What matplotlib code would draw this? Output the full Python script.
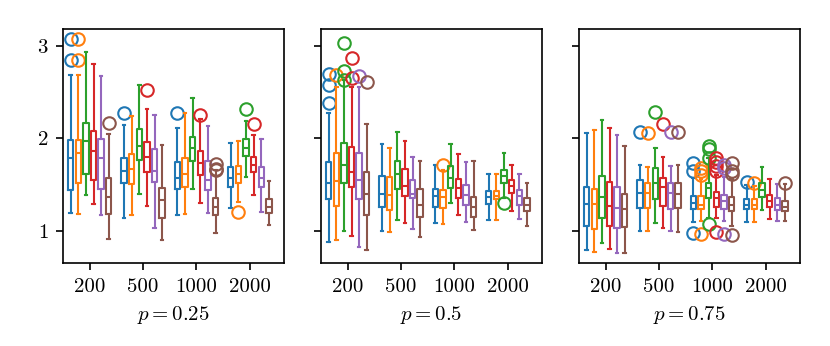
import numpy as np
import matplotlib
matplotlib.use("Agg")
import matplotlib.pyplot as plt

plt.rcParams["font.family"] = "serif"
plt.rcParams["font.serif"] = ["cmr10", "DejaVu Serif"]
plt.rcParams["mathtext.fontset"] = "cm"
plt.rcParams["axes.formatter.use_mathtext"] = True
plt.rcParams["font.size"] = 10

sizes = ["200", "500", "1000", "2000"]
panel_titles = ["$p = 0.25$", "$p = 0.5$", "$p = 0.75$"]
colors = ["tab:blue", "tab:orange", "tab:green", "tab:red", "tab:purple", "tab:brown"]

# rows: sizes (200, 500, 1000, 2000); columns: the six methods
p25_hi = [[2.68, 2.68, 2.93, 2.80, 2.67, 2.05],
          [2.14, 2.24, 2.57, 2.32, 2.25, 1.93],
          [2.11, 2.27, 2.43, 2.21, 2.13, 1.66],
          [1.95, 1.97, 2.19, 2.03, 1.99, 1.54]]
p25_q3 = [[1.98, 1.98, 2.16, 2.08, 1.99, 1.57],
          [1.79, 1.83, 2.10, 1.96, 1.88, 1.46],
          [1.74, 1.79, 2.01, 1.86, 1.75, 1.35],
          [1.69, 1.70, 1.99, 1.80, 1.69, 1.34]]
p25_med = [[1.79, 1.84, 1.97, 1.86, 1.79, 1.36],
           [1.65, 1.67, 1.91, 1.80, 1.64, 1.33],
           [1.57, 1.61, 1.89, 1.73, 1.55, 1.26],
           [1.57, 1.61, 1.89, 1.71, 1.57, 1.26]]
p25_q1 = [[1.44, 1.52, 1.61, 1.55, 1.45, 1.18],
          [1.52, 1.50, 1.76, 1.63, 1.53, 1.14],
          [1.45, 1.47, 1.75, 1.60, 1.44, 1.17],
          [1.47, 1.51, 1.81, 1.63, 1.47, 1.19]]
p25_lo = [[1.19, 1.18, 1.39, 1.29, 1.17, 0.91],
          [1.14, 1.17, 1.40, 1.27, 1.03, 0.90],
          [1.17, 1.18, 1.45, 1.30, 1.19, 0.97],
          [1.25, 1.31, 1.58, 1.39, 1.20, 1.06]]
p25_out = [[[3.07, 2.84], [3.07, 2.84], [], [], [], [2.16]],
           [[2.27], [], [], [2.52], [], []],
           [[2.27], [], [], [2.25], [], [1.72, 1.67, 1.66]],
           [[], [1.20], [2.31], [2.15], [], []]]

p50_hi = [[2.27, 2.55, 2.63, 2.55, 2.55, 2.15],
          [1.94, 1.89, 2.07, 1.97, 1.80, 1.75],
          [1.71, 1.66, 1.94, 1.83, 1.74, 1.75],
          [1.61, 1.61, 1.84, 1.71, 1.61, 1.52]]
p50_q3 = [[1.74, 1.84, 1.95, 1.90, 1.84, 1.63],
          [1.59, 1.58, 1.75, 1.67, 1.55, 1.45],
          [1.45, 1.44, 1.70, 1.56, 1.49, 1.36],
          [1.43, 1.43, 1.66, 1.55, 1.44, 1.35]]
p50_med = [[1.52, 1.54, 1.71, 1.63, 1.55, 1.40],
           [1.40, 1.38, 1.61, 1.48, 1.40, 1.28],
           [1.37, 1.36, 1.57, 1.46, 1.38, 1.26],
           [1.36, 1.37, 1.59, 1.48, 1.37, 1.28]]
p50_q1 = [[1.34, 1.27, 1.52, 1.47, 1.34, 1.17],
          [1.26, 1.22, 1.45, 1.37, 1.35, 1.15],
          [1.26, 1.25, 1.46, 1.35, 1.28, 1.15],
          [1.29, 1.34, 1.52, 1.41, 1.28, 1.21]]
p50_lo = [[0.88, 0.90, 1.00, 0.94, 0.82, 0.79],
          [1.00, 0.98, 1.12, 1.08, 1.02, 0.93],
          [1.08, 1.07, 1.30, 1.17, 1.09, 1.01],
          [1.11, 1.11, 1.35, 1.21, 1.13, 1.05]]
p50_out = [[[2.69, 2.57, 2.38], [2.68], [3.03, 2.73, 2.63], [2.87, 2.65], [2.67], [2.61]],
           [[], [], [], [], [], []],
           [[], [1.71], [], [], [], []],
           [[], [], [1.30], [], [], []]]

p75_hi = [[2.06, 2.09, 2.20, 2.11, 2.03, 1.92],
          [1.71, 1.69, 1.89, 1.80, 1.70, 1.71],
          [1.57, 1.56, 1.78, 1.60, 1.58, 1.56],
          [1.49, 1.48, 1.69, 1.56, 1.50, 1.50]]
p75_q3 = [[1.47, 1.45, 1.59, 1.53, 1.47, 1.40],
          [1.55, 1.52, 1.68, 1.57, 1.52, 1.52],
          [1.37, 1.37, 1.52, 1.42, 1.39, 1.36],
          [1.34, 1.34, 1.52, 1.38, 1.35, 1.32]]
p75_med = [[1.29, 1.29, 1.36, 1.27, 1.25, 1.23],
           [1.41, 1.41, 1.52, 1.47, 1.41, 1.40],
           [1.30, 1.28, 1.46, 1.35, 1.32, 1.28],
           [1.28, 1.28, 1.44, 1.32, 1.28, 1.26]]
p75_q1 = [[1.05, 1.02, 1.14, 1.05, 1.03, 1.04],
          [1.25, 1.25, 1.34, 1.27, 1.23, 1.24],
          [1.23, 1.23, 1.35, 1.26, 1.23, 1.21],
          [1.23, 1.23, 1.36, 1.26, 1.22, 1.21]]
p75_lo = [[0.79, 0.77, 0.87, 0.80, 0.76, 0.76],
          [1.00, 1.00, 1.08, 1.03, 1.00, 0.98],
          [1.09, 1.10, 1.14, 1.14, 1.10, 1.05],
          [1.09, 1.09, 1.22, 1.13, 1.10, 1.10]]
p75_out = [[[], [], [], [], [], []],
           [[2.07], [2.06], [2.28], [2.15], [2.07], [2.07]],
           [[1.73, 1.64, 0.97], [1.68, 1.64, 1.60, 0.96], [1.91, 1.88, 1.79, 1.07],
            [1.79, 1.74, 1.70, 1.65, 0.99], [1.71, 1.68, 0.96], [1.73, 1.64, 1.61, 0.95]],
           [[1.53], [1.52], [], [], [], [1.52]]]

panels = [
    (p25_lo, p25_q1, p25_med, p25_q3, p25_hi, p25_out),
    (p50_lo, p50_q1, p50_med, p50_q3, p50_hi, p50_out),
    (p75_lo, p75_q1, p75_med, p75_q3, p75_hi, p75_out),
]

fig = plt.figure(figsize=(8.3 / 1.5, 3.46 / 1.5), dpi=150)
axes = []
for k in range(3):
    left = (63 + k * 258) / 830
    ax = fig.add_axes([left, 83 / 346, 221 / 830, 234 / 346],
                      sharey=axes[0] if axes else None)
    axes.append(ax)

for k, (ax, data) in enumerate(zip(axes, panels)):
    lo, q1, med, q3, hi, out = data
    for h, c in enumerate(colors):
        stats = []
        pos = []
        for g in range(len(sizes)):
            stats.append(dict(whislo=lo[g][h], q1=q1[g][h], med=med[g][h],
                              q3=q3[g][h], whishi=hi[g][h], fliers=out[g][h]))
            pos.append(g + (h - 2.5) / 7)
        ax.bxp(stats, positions=pos, widths=0.1, capwidths=0.05,
               boxprops=dict(color=c, linewidth=1.0),
               medianprops=dict(color=c, linewidth=1.0),
               whiskerprops=dict(color=c, linewidth=1.0),
               capprops=dict(color=c, linewidth=1.0),
               flierprops=dict(marker="o", markerfacecolor="none",
                               markeredgecolor=c, markersize=6, markeredgewidth=1.0),
               manage_ticks=False)
    ax.set_xticks(range(len(sizes)))
    ax.set_xticklabels(sizes)
    ax.set_xlim(-0.5, 3.64)
    ax.set_ylim(0.65, 3.18)
    ax.set_yticks([1, 2, 3])
    ax.set_xlabel(panel_titles[k])
    if k > 0:
        ax.tick_params(labelleft=False)

fig.savefig("out.png", dpi=150)
